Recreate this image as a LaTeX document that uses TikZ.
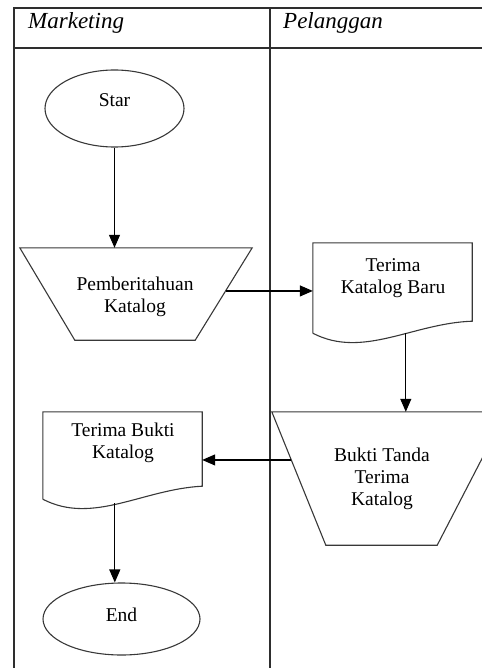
\documentclass[tikz,border=0pt]{standalone}
\usepackage{fontspec}
\setmainfont{Liberation Serif}
\usetikzlibrary{arrows.meta,calc,shapes.geometric}

% document symbol: box with a wavy bottom edge; #2 = rise of the right end
\newcommand{\docoutline}[2]{%
  \draw[shapeline] ($(#1.south west)$) -- (#1.north west) -- (#1.north east)
    -- ($(#1.south east)+(0,-#2)$)
    .. controls ($(#1.south west)+(100,-10)$) and ($(#1.south west)+(50,26)$)
    .. (#1.south west);}

\begin{document}
\begin{tikzpicture}[x=1pt,y=-1pt,
  frame/.style={draw=black!82, line width=1.7pt},
  shapeline/.style={draw=black!78, line width=1.1pt},
  box/.style={rectangle, draw=none, inner sep=0pt},
  oval/.style={ellipse, shapeline, inner sep=0pt},
  txt/.style={inner sep=0pt, align=center, font=\fontsize{19.5}{22}\selectfont},
  head/.style={inner sep=0pt, anchor=base west, font=\fontsize{23}{26}\selectfont\itshape},
  flow/.style={draw=black, line width=1.1pt, -{Triangle[length=13pt,width=11pt]}}]

\useasboundingbox (0,0) rectangle (481,668);

% swimlane frame
\draw[frame] (14,668) -- (14,8) -- (482,8);
\draw[frame] (14,48) -- (482,48);
\draw[frame] (270,8) -- (270,668);
\node[head] (hmkt) at (28,29) {Marketing};
\node[head] (hplg) at (283,29) {Pelanggan};

% Marketing lane
\node[oval, minimum width=139pt, minimum height=77pt] (star) at (114.5,108.5) {};
\node[txt, anchor=north] (startxt) at (114.5,93) {Star};

\node[box, minimum width=232pt, minimum height=92pt] (t1) at (136,294) {};
\coordinate (t1br) at ($(t1.south east)+(-57,0)$);
\coordinate (t1bl) at ($(t1.south west)+(55,0)$);
\draw[shapeline] (t1.north west) -- (t1.north east) -- (t1br) -- (t1bl) -- cycle;
\node[txt, anchor=north] (t1txt) at (135,277) {Pemberitahuan\\Katalog};
\coordinate (t1side) at ($(t1.north east)!0.467!(t1br)$);

\node[box, minimum width=159pt, minimum height=87pt] (doc3) at (122.5,455.5) {};
\docoutline{doc3}{13}
\node[txt, anchor=north] (doc3txt) at (123,423) {Terima Bukti\\Katalog};
\coordinate (doc3w) at ($(doc3.south west)+(72,4)$);

\node[oval, minimum width=157pt, minimum height=72pt] (end) at (121.5,619) {};
\node[txt, anchor=north] (endtxt) at (121.5,608) {End};

% Pelanggan lane
\node[box, minimum width=159pt, minimum height=90pt] (doc2) at (392.5,288) {};
\docoutline{doc2}{12}
\node[txt, anchor=north] (doc2txt) at (393,258) {Terima\\Katalog Baru};
\coordinate (doc2w) at ($(doc2.south west)+(93,0)$);

\node[box, minimum width=220pt, minimum height=133pt] (t2) at (382,478.5) {};
\coordinate (t2br) at ($(t2.south east)+(-55,0)$);
\coordinate (t2bl) at ($(t2.south west)+(54,0)$);
\coordinate (t2tr) at ($(t2.north east)+(14,0)$);
\draw[shapeline] (t2.north west) -- (t2tr) -- (t2br) -- (t2bl) -- cycle;
\node[txt, anchor=north] (t2txt) at (382,448) {Bukti Tanda\\Terima\\Katalog};
\coordinate (t2side) at ($(t2.north west)!0.361!(t2bl)$);

% flow
\draw[flow] (star.south) -- (star.south |- t1.north);
\draw[flow] (t1side) -- (doc2.west |- t1side);
\draw[flow] (doc2w) -- (doc2w |- t2.north);
\draw[flow] (t2side) -- (doc3.east |- t2side);
\draw[flow] (doc3w) -- (doc3w |- end.north);
\end{tikzpicture}
\end{document}
